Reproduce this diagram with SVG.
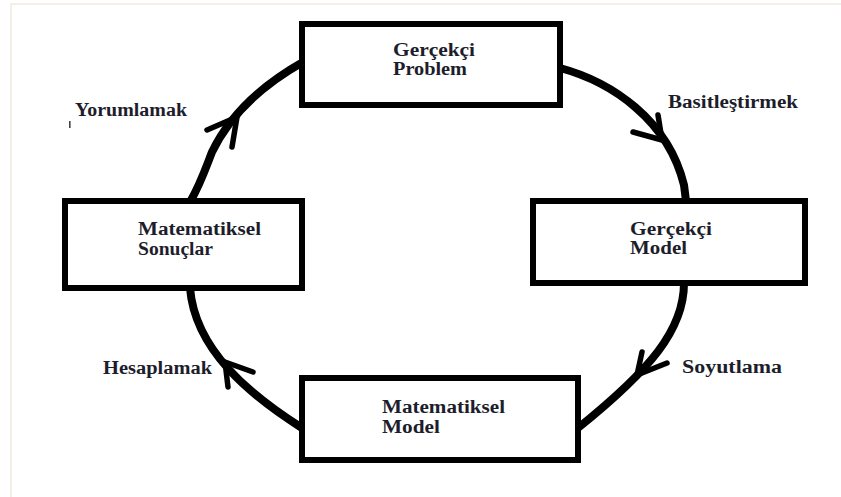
<svg xmlns="http://www.w3.org/2000/svg" width="841" height="497" viewBox="0 0 841 497">
  <style>
    .frame { fill: none; stroke: #efeadb; stroke-width: 1.5; }
    .box { fill: #ffffff; stroke: #000000; stroke-width: 6; stroke-linejoin: miter; }
    .lbl { font-family: "Liberation Serif", "Times New Roman", serif; font-weight: bold; font-size: 18px; fill: #1d1d2b; }
    .arc { fill: none; stroke: #000000; stroke-width: 8; stroke-linecap: round; }
    .head { fill: none; stroke: #000000; stroke-width: 5.5; stroke-linecap: round; stroke-linejoin: round; }
  </style>

  <rect width="841" height="497" fill="#ffffff"/>
  <path class="frame" d="M11,497 V4 H841"/>

  <!-- cycle arcs with their arrowheads -->
  <g id="connectors">
    <path class="arc" d="M190,202 C200,185 205,170 212,152 C225,125 250,92 303,62"/>
    <path class="head" d="M207,130 L237,117 L232,147"/>

    <path class="arc" d="M560,68 C612,82 668,120 684,185 L686,201"/>
    <path class="head" d="M658,115 L662,140 L633,132"/>

    <path class="arc" d="M684,283 C684,330 650,370 578,428"/>
    <path class="head" d="M642,352 L637,375 L667,363"/>

    <path class="arc" d="M302,428 C250,395 195,350 190,288"/>
    <path class="head" d="M253,372 L225,362 L228,387"/>
  </g>

  <g id="gercekci-problem">
    <rect class="box" x="302" y="24" width="258" height="81"/>
    <text class="lbl" x="393" y="56" textLength="82" lengthAdjust="spacingAndGlyphs">Gerçekçi</text>
    <text class="lbl" x="393" y="75" textLength="74" lengthAdjust="spacingAndGlyphs">Problem</text>
  </g>

  <g id="gercekci-model">
    <rect class="box" x="533" y="201" width="272" height="82"/>
    <text class="lbl" x="630" y="235" textLength="82" lengthAdjust="spacingAndGlyphs">Gerçekçi</text>
    <text class="lbl" x="630" y="254" textLength="57" lengthAdjust="spacingAndGlyphs">Model</text>
  </g>

  <g id="matematiksel-sonuclar">
    <rect class="box" x="65" y="201" width="237" height="87"/>
    <text class="lbl" x="138" y="235" textLength="123" lengthAdjust="spacingAndGlyphs">Matematiksel</text>
    <text class="lbl" x="138" y="255" textLength="75" lengthAdjust="spacingAndGlyphs">Sonuçlar</text>
  </g>

  <g id="matematiksel-model">
    <rect class="box" x="302" y="378" width="276" height="82"/>
    <text class="lbl" x="382" y="413" textLength="123" lengthAdjust="spacingAndGlyphs">Matematiksel</text>
    <text class="lbl" x="382" y="433" textLength="58" lengthAdjust="spacingAndGlyphs">Model</text>
  </g>

  <!-- step labels -->
  <g id="step-labels">
    <text class="lbl" x="75" y="116" textLength="112" lengthAdjust="spacingAndGlyphs">Yorumlamak</text>
    <rect x="69" y="121" width="1.6" height="7" fill="#444"/>
    <text class="lbl" x="668" y="108" textLength="130" lengthAdjust="spacingAndGlyphs">Basitleştirmek</text>
    <text class="lbl" x="682" y="373" font-size="20" textLength="100" lengthAdjust="spacingAndGlyphs">Soyutlama</text>
    <text class="lbl" x="103" y="374" textLength="109" lengthAdjust="spacingAndGlyphs">Hesaplamak</text>
  </g>
</svg>
